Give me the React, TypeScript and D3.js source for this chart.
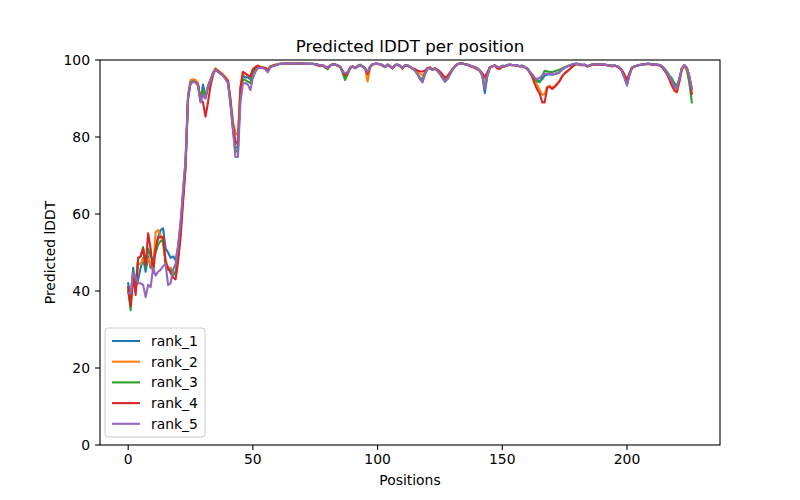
import React from "react";
import * as d3 from "d3";

const seriesNames = ["rank_1", "rank_2", "rank_3", "rank_4", "rank_5"];
const seriesColors = ["#1f77b4", "#ff7f0e", "#2ca02c", "#d62728", "#9467bd"];

const rank1 = [
  42, 38, 46, 41, 43, 46, 48.6, 45, 49, 46,
  48, 51, 54, 55.8, 56.3, 51, 50, 48.6, 49, 48,
  51.6, 57, 65, 73, 90, 94.3, 94.6, 94.4, 93.5, 89.5,
  93.6, 90.5, 93, 94.8, 96.5, 97.5, 97, 96.5, 96, 95.3,
  94.5, 89, 82.5, 77.5, 77, 92, 96, 95.5, 95.5, 95,
  97.4, 98, 98.5, 98, 98, 97.9, 97.2, 98.3, 98.5, 98.7,
  98.8, 99, 99, 99.1, 99.1, 99.1, 99.1, 99.1, 99.1, 99.1,
  99.1, 99, 99, 99, 99, 98.9, 98.8, 98.6, 98.6, 98.2,
  97.9, 98.6, 98.9, 98.8, 98.6, 98.3, 97, 95.8, 96.5, 98,
  98.3, 97.9, 98.4, 98.6, 98.3, 97.9, 96.5, 98.3, 98.9, 99,
  99, 98.9, 98.7, 98.2, 98.8, 98.4, 97.9, 98.7, 98.8, 98.5,
  97.9, 98.6, 98.6, 98.2, 97.8, 97.3, 96.4, 95, 94.4, 96.4,
  97.8, 97.9, 97.4, 97.8, 97.3, 96.5, 95.5, 94.4, 95.2, 96.4,
  97.5, 98.3, 98.9, 99.1, 99.1, 98.9, 98.8, 98.6, 98.3, 98.1,
  97.8, 97.2, 95.8, 91.4, 95.8, 98, 98.4, 98.6, 98.2, 98.1,
  98.5, 98.4, 98.7, 98.8, 98.7, 98.7, 98.6, 98.4, 98.5, 98.2,
  97.8, 97, 96.2, 95.2, 94.6, 94.4, 95, 96, 96.2, 96.3,
  96.2, 96.3, 96.5, 96.8, 97.5, 98, 98.3, 98.6, 98.8, 99,
  99, 98.9, 98.7, 98.8, 98.4, 98.6, 98.8, 98.9, 98.9, 98.8,
  98.9, 98.8, 98.7, 98.6, 98.5, 98.6, 98.4, 98, 97.2, 95.8,
  93.8, 96.3, 98, 98.3, 98.5, 98.7, 98.8, 98.9, 99, 99,
  98.9, 98.8, 98.8, 98.7, 98.4, 97.4, 96.5, 95.8, 95, 93.8,
  93, 95, 97.8, 98.6, 97.9, 95.5, 92.8,
];

const rank2 = [
  41, 37, 44, 41.5, 47, 47, 48.5, 47, 48.5, 47,
  45.5, 55.3, 55.8, 54.5, 52.5, 48, 46, 46, 45, 44.5,
  49, 56, 66, 74, 91, 94.8, 95, 94.8, 94, 89.5,
  92, 90, 93.3, 95, 96.8, 97.8, 97.3, 96.8, 96.3, 95.6,
  94.8, 90, 84, 81, 80.5, 93, 96.8, 96.5, 96, 95.7,
  97.6, 98.2, 98.6, 98.2, 98.1, 98, 97.5, 98.4, 98.6, 98.8,
  98.9, 99.1, 99.1, 99.2, 99.2, 99.2, 99.1, 99.1, 99.2, 99.1,
  99.1, 99.1, 99, 99, 99, 98.9, 98.7, 98.5, 98.7, 98.3,
  98, 98.5, 98.9, 98.9, 98.5, 98.2, 97.2, 96.2, 96.8, 98.1,
  98.4, 98, 98.3, 98.6, 98.4, 97.8, 94.4, 98, 98.9, 99,
  99, 98.9, 98.6, 98.3, 98.8, 98.5, 98, 98.7, 98.9, 98.5,
  98, 98.7, 98.6, 98.3, 97.9, 97.6, 97, 96.5, 96, 96.8,
  97.9, 98, 97.5, 97.8, 97.4, 96.8, 96, 95, 95.6, 96.6,
  97.6, 98.4, 98.9, 99.1, 99.1, 98.9, 98.8, 98.6, 98.4, 98.1,
  97.9, 97.4, 96.5, 95.2, 96.5, 98.1, 98.4, 98.6, 98.3, 98.1,
  98.4, 98.4, 98.6, 98.8, 98.7, 98.7, 98.6, 98.4, 98.5, 98.2,
  97.8, 96.8, 95.8, 94.6, 93.5, 92.2, 91, 91.2, 93, 93.3,
  92.8, 93.2, 93.9, 94.6, 95.8, 96.6, 97.1, 97.6, 98.3, 98.8,
  99, 98.9, 98.7, 98.8, 98.5, 98.6, 98.8, 98.9, 98.9, 98.8,
  98.9, 98.8, 98.7, 98.6, 98.5, 98.6, 98.4, 98, 97.3, 96,
  94.3, 96.5, 98, 98.3, 98.5, 98.7, 98.8, 98.9, 99, 99,
  98.9, 98.8, 98.8, 98.7, 98.3, 97.5, 96.4, 95, 93.3, 92,
  91.5, 94.3, 97.6, 98.3, 97.2, 94.4, 92.5,
];

const rank3 = [
  40, 35, 45, 41.5, 48.5, 49, 51.4, 46, 51, 49,
  48, 50, 52, 53, 53, 47, 45.5, 45.5, 44, 45,
  49, 56, 64, 73, 90, 94.2, 94.4, 94.3, 93.6, 89.3,
  92.3, 90.3, 93.2, 94.8, 96.5, 97.5, 97, 96.5, 96, 95.2,
  94.4, 89, 82, 76.6, 76, 91, 95, 94.8, 94.4, 94,
  96.8, 97.8, 98.4, 98, 98, 97.8, 97.2, 98.2, 98.5, 98.7,
  98.8, 99, 99, 99.1, 99.1, 99.1, 99.1, 99.1, 99.1, 99.1,
  99.1, 99, 99, 99, 99, 98.9, 98.8, 98.6, 98.5, 98,
  97.6, 98.6, 98.9, 98.8, 98.6, 98.2, 96.6, 94.8, 96.3, 97.9,
  98.3, 98, 98.5, 98.8, 98.4, 97.9, 96.6, 98.3, 98.9, 99,
  99, 98.9, 98.7, 98.1, 98.8, 98.4, 97.8, 98.7, 98.8, 98.5,
  97.8, 98.6, 98.6, 98.2, 97.7, 97.2, 96.3, 95.4, 95, 96.5,
  97.8, 97.9, 97.4, 97.7, 97.2, 96.3, 95.3, 94.5, 95, 96.2,
  97.4, 98.3, 98.9, 99.1, 99.1, 98.9, 98.8, 98.6, 98.3, 98.1,
  97.8, 97.3, 96, 93, 96.2, 98, 98.4, 98.6, 98.2, 98.1,
  98.5, 98.4, 98.7, 98.8, 98.7, 98.7, 98.6, 98.4, 98.5, 98.2,
  97.8, 97, 96, 95, 94.4, 94.2, 95.8, 97.2, 97.1, 96.9,
  96.9, 97.1, 97.3, 97.5, 97.8, 98.1, 98.4, 98.6, 98.8, 99,
  99, 98.9, 98.7, 98.8, 98.4, 98.6, 98.8, 98.9, 98.9, 98.8,
  98.9, 98.8, 98.7, 98.6, 98.5, 98.6, 98.4, 98, 97, 95.5,
  93.8, 96.2, 98, 98.3, 98.5, 98.7, 98.8, 98.9, 99, 99,
  98.9, 98.8, 98.8, 98.7, 98.4, 97.8, 97, 96, 95.2, 94,
  93.3, 95, 97.8, 98.6, 97.8, 94, 89,
];

const rank4 = [
  41, 36, 44, 39, 48.6, 49, 51, 46.7, 55, 51,
  44.7, 51, 53.8, 54, 54, 47.5, 46, 44.7, 43.5, 43,
  47.5, 53.8, 63, 72, 90, 94, 94.3, 94.3, 93.5, 89.6,
  89, 85.3, 89, 93.3, 96, 97.6, 97.1, 96.6, 96, 95.3,
  94.5, 89.5, 83.5, 79, 78, 92.5, 96.9, 96.5, 96, 95.7,
  97.5, 98.1, 98.5, 98.1, 98, 97.9, 97.4, 98.3, 98.5, 98.7,
  98.8, 99, 99, 99.1, 99.1, 99.1, 99.1, 99.1, 99.1, 99.1,
  99.1, 99, 99, 99, 99, 98.8, 98.6, 98.4, 98.6, 98.2,
  97.9, 98.5, 98.9, 98.8, 98.5, 98.2, 97.2, 96, 96.6, 98,
  98.3, 97.9, 98.3, 98.6, 98.3, 97.8, 96.4, 98.2, 98.8, 99,
  99, 98.9, 98.5, 98.2, 98.8, 98.3, 97.8, 98.6, 98.7, 98.4,
  97.8, 98.5, 98.5, 98.2, 97.8, 97.6, 97.3, 97.1, 97, 97.2,
  97.9, 98.1, 97.6, 97.9, 97.5, 97, 96.3, 95.4, 95.8, 96.7,
  97.6, 98.3, 98.9, 99.1, 99.1, 98.9, 98.7, 98.5, 98.2, 97.9,
  97.6, 97.2, 96.5, 95.6, 96.8, 98, 98.3, 98.5, 97.8, 97.7,
  98.2, 98.3, 98.6, 98.7, 98.6, 98.6, 98.5, 98.3, 98.4, 98.1,
  97.7, 96.8, 95.6, 93.8, 92.3, 91.3, 89, 89, 92.8, 93,
  92.5, 93, 93.7, 94.5, 95.8, 96.5, 97, 97.6, 98.2, 98.7,
  98.9, 98.8, 98.6, 98.7, 98.3, 98.5, 98.7, 98.8, 98.8, 98.7,
  98.8, 98.7, 98.6, 98.5, 98.3, 98.5, 98.3, 97.9, 97.3, 96.2,
  94.8, 96.6, 98, 98.3, 98.5, 98.7, 98.8, 98.9, 98.9, 98.9,
  98.8, 98.7, 98.7, 98.6, 98.2, 97.4, 96.3, 95, 93.5, 92.2,
  91.8, 94.5, 97.8, 98.6, 98, 95.8, 91.2,
];

const rank5 = [
  39.5, 39.5, 44.7, 43.6, 42, 42, 41.6, 38.4, 41.6, 41,
  46, 44, 45, 45.5, 46.5, 47, 41.6, 42, 45.6, 47,
  51.6, 58, 66, 74, 90.5, 94, 94.3, 94.2, 93.3, 89,
  91, 90, 93, 94.7, 96.4, 97.4, 96.9, 96.4, 95.9, 95,
  94, 88.5, 82, 74.8, 74.8, 89, 93.8, 94, 93.6, 92.2,
  95.3, 96.9, 98, 97.9, 97.9, 97.6, 96.8, 98.1, 98.4, 98.6,
  98.8, 99, 99, 99.1, 99.1, 99.1, 99.1, 99.1, 99.1, 99.1,
  99.1, 99, 99, 99, 99, 98.9, 98.8, 98.6, 98.6, 98.3,
  98, 98.6, 98.9, 98.8, 98.6, 98.3, 97, 96.6, 96.8, 98,
  98.3, 97.9, 98.4, 98.6, 98.3, 97.9, 96.9, 98.3, 98.9, 99,
  99, 98.9, 98.7, 98.2, 98.8, 98.4, 97.9, 98.7, 98.8, 98.5,
  97.9, 98.6, 98.6, 98.2, 97.8, 97.3, 96.3, 95.1, 94.2, 96.3,
  97.8, 97.9, 97.4, 97.8, 97.2, 96.4, 95.4, 94.4, 95.1, 96.3,
  97.5, 98.3, 98.9, 99.1, 99.1, 98.9, 98.8, 98.6, 98.3, 98.1,
  97.8, 97.2, 96, 92.6, 96, 98, 98.4, 98.6, 98.2, 98.1,
  98.5, 98.4, 98.7, 98.8, 98.7, 98.7, 98.6, 98.4, 98.5, 98.2,
  97.8, 97, 96.2, 95.4, 95, 95.4, 96, 96.4, 96.5, 96.4,
  96.3, 96.4, 96.6, 96.9, 97.6, 98, 98.3, 98.6, 98.8, 99,
  99, 98.9, 98.7, 98.8, 98.4, 98.6, 98.8, 98.9, 98.9, 98.8,
  98.9, 98.8, 98.7, 98.6, 98.5, 98.6, 98.4, 98, 97, 95.3,
  93.3, 96, 97.9, 98.3, 98.5, 98.7, 98.8, 98.9, 99, 99,
  98.9, 98.8, 98.8, 98.7, 98.4, 97.7, 96.6, 95.6, 94.5, 93,
  92.6, 95.2, 97.9, 98.7, 98, 95.8, 92.4,
];

const xTicks = [0, 50, 100, 150, 200];
const yTicks = [0, 20, 40, 60, 80, 100];

const W = 800;
const H = 500;
const left = 100;
const right = 720;
const top = 60;
const bottom = 445;
const font = "DejaVu Sans, sans-serif";

export default function App() {
  const allSeries = [rank1, rank2, rank3, rank4, rank5];
  const n = rank1.length;
  const pad = (n - 1) * 0.05;

  const x = d3.scaleLinear().domain([-pad, n - 1 + pad]).range([left, right]);
  const y = d3.scaleLinear().domain([0, 100]).range([bottom, top]);

  const line = d3
    .line<number>()
    .x((_, i) => x(i))
    .y((d) => y(d));

  const legendX = 105;
  const legendY = 328;

  return (
    <svg
      width={W}
      height={H}
      style={{ position: "absolute", left: 0, top: 0, background: "white" }}
      fontFamily={font}
    >
      <rect x={0} y={0} width={W} height={H} fill="white" />
      <defs>
        <clipPath id="plot">
          <rect x={left} y={top} width={right - left} height={bottom - top} />
        </clipPath>
      </defs>

      <g clipPath="url(#plot)">
        {allSeries.map((s, k) => (
          <path
            key={seriesNames[k]}
            d={line(s) || ""}
            fill="none"
            stroke={seriesColors[k]}
            strokeWidth={2.1}
            strokeLinejoin="round"
            strokeLinecap="square"
          />
        ))}
      </g>

      {/* axes frame */}
      <rect
        x={left}
        y={top}
        width={right - left}
        height={bottom - top}
        fill="none"
        stroke="black"
        strokeWidth={1.1}
      />

      {xTicks.map((t) => (
        <g key={"x" + t}>
          <line x1={x(t)} x2={x(t)} y1={bottom} y2={bottom + 4.9} stroke="black" strokeWidth={1.1} />
          <text x={x(t)} y={bottom + 19} textAnchor="middle" fontSize={13.9} fill="black">
            {t}
          </text>
        </g>
      ))}

      {yTicks.map((t) => (
        <g key={"y" + t}>
          <line x1={left - 4.9} x2={left} y1={y(t)} y2={y(t)} stroke="black" strokeWidth={1.1} />
          <text x={left - 10} y={y(t) + 5} textAnchor="end" fontSize={13.9} fill="black">
            {t}
          </text>
        </g>
      ))}

      <text x={(left + right) / 2} y={52} textAnchor="middle" fontSize={16.7} fill="black">
        Predicted lDDT per position
      </text>
      <text x={(left + right) / 2} y={485} textAnchor="middle" fontSize={13.9} fill="black">
        Positions
      </text>
      <text
        transform={`translate(55, ${(top + bottom) / 2}) rotate(-90)`}
        textAnchor="middle"
        fontSize={13.9}
        fill="black"
      >
        Predicted lDDT
      </text>

      {/* legend */}
      <rect
        x={legendX}
        y={legendY}
        width={100}
        height={109}
        rx={3}
        fill="white"
        fillOpacity={0.8}
        stroke="#cccccc"
        strokeWidth={1}
      />
      {seriesNames.map((name, i) => {
        const ry = legendY + 13 + i * 20.7;
        return (
          <g key={name}>
            <line x1={legendX + 7} x2={legendX + 35} y1={ry} y2={ry} stroke={seriesColors[i]} strokeWidth={2.1} />
            <text x={legendX + 46} y={ry + 5} fontSize={13.9} fill="black">
              {name}
            </text>
          </g>
        );
      })}
    </svg>
  );
}
